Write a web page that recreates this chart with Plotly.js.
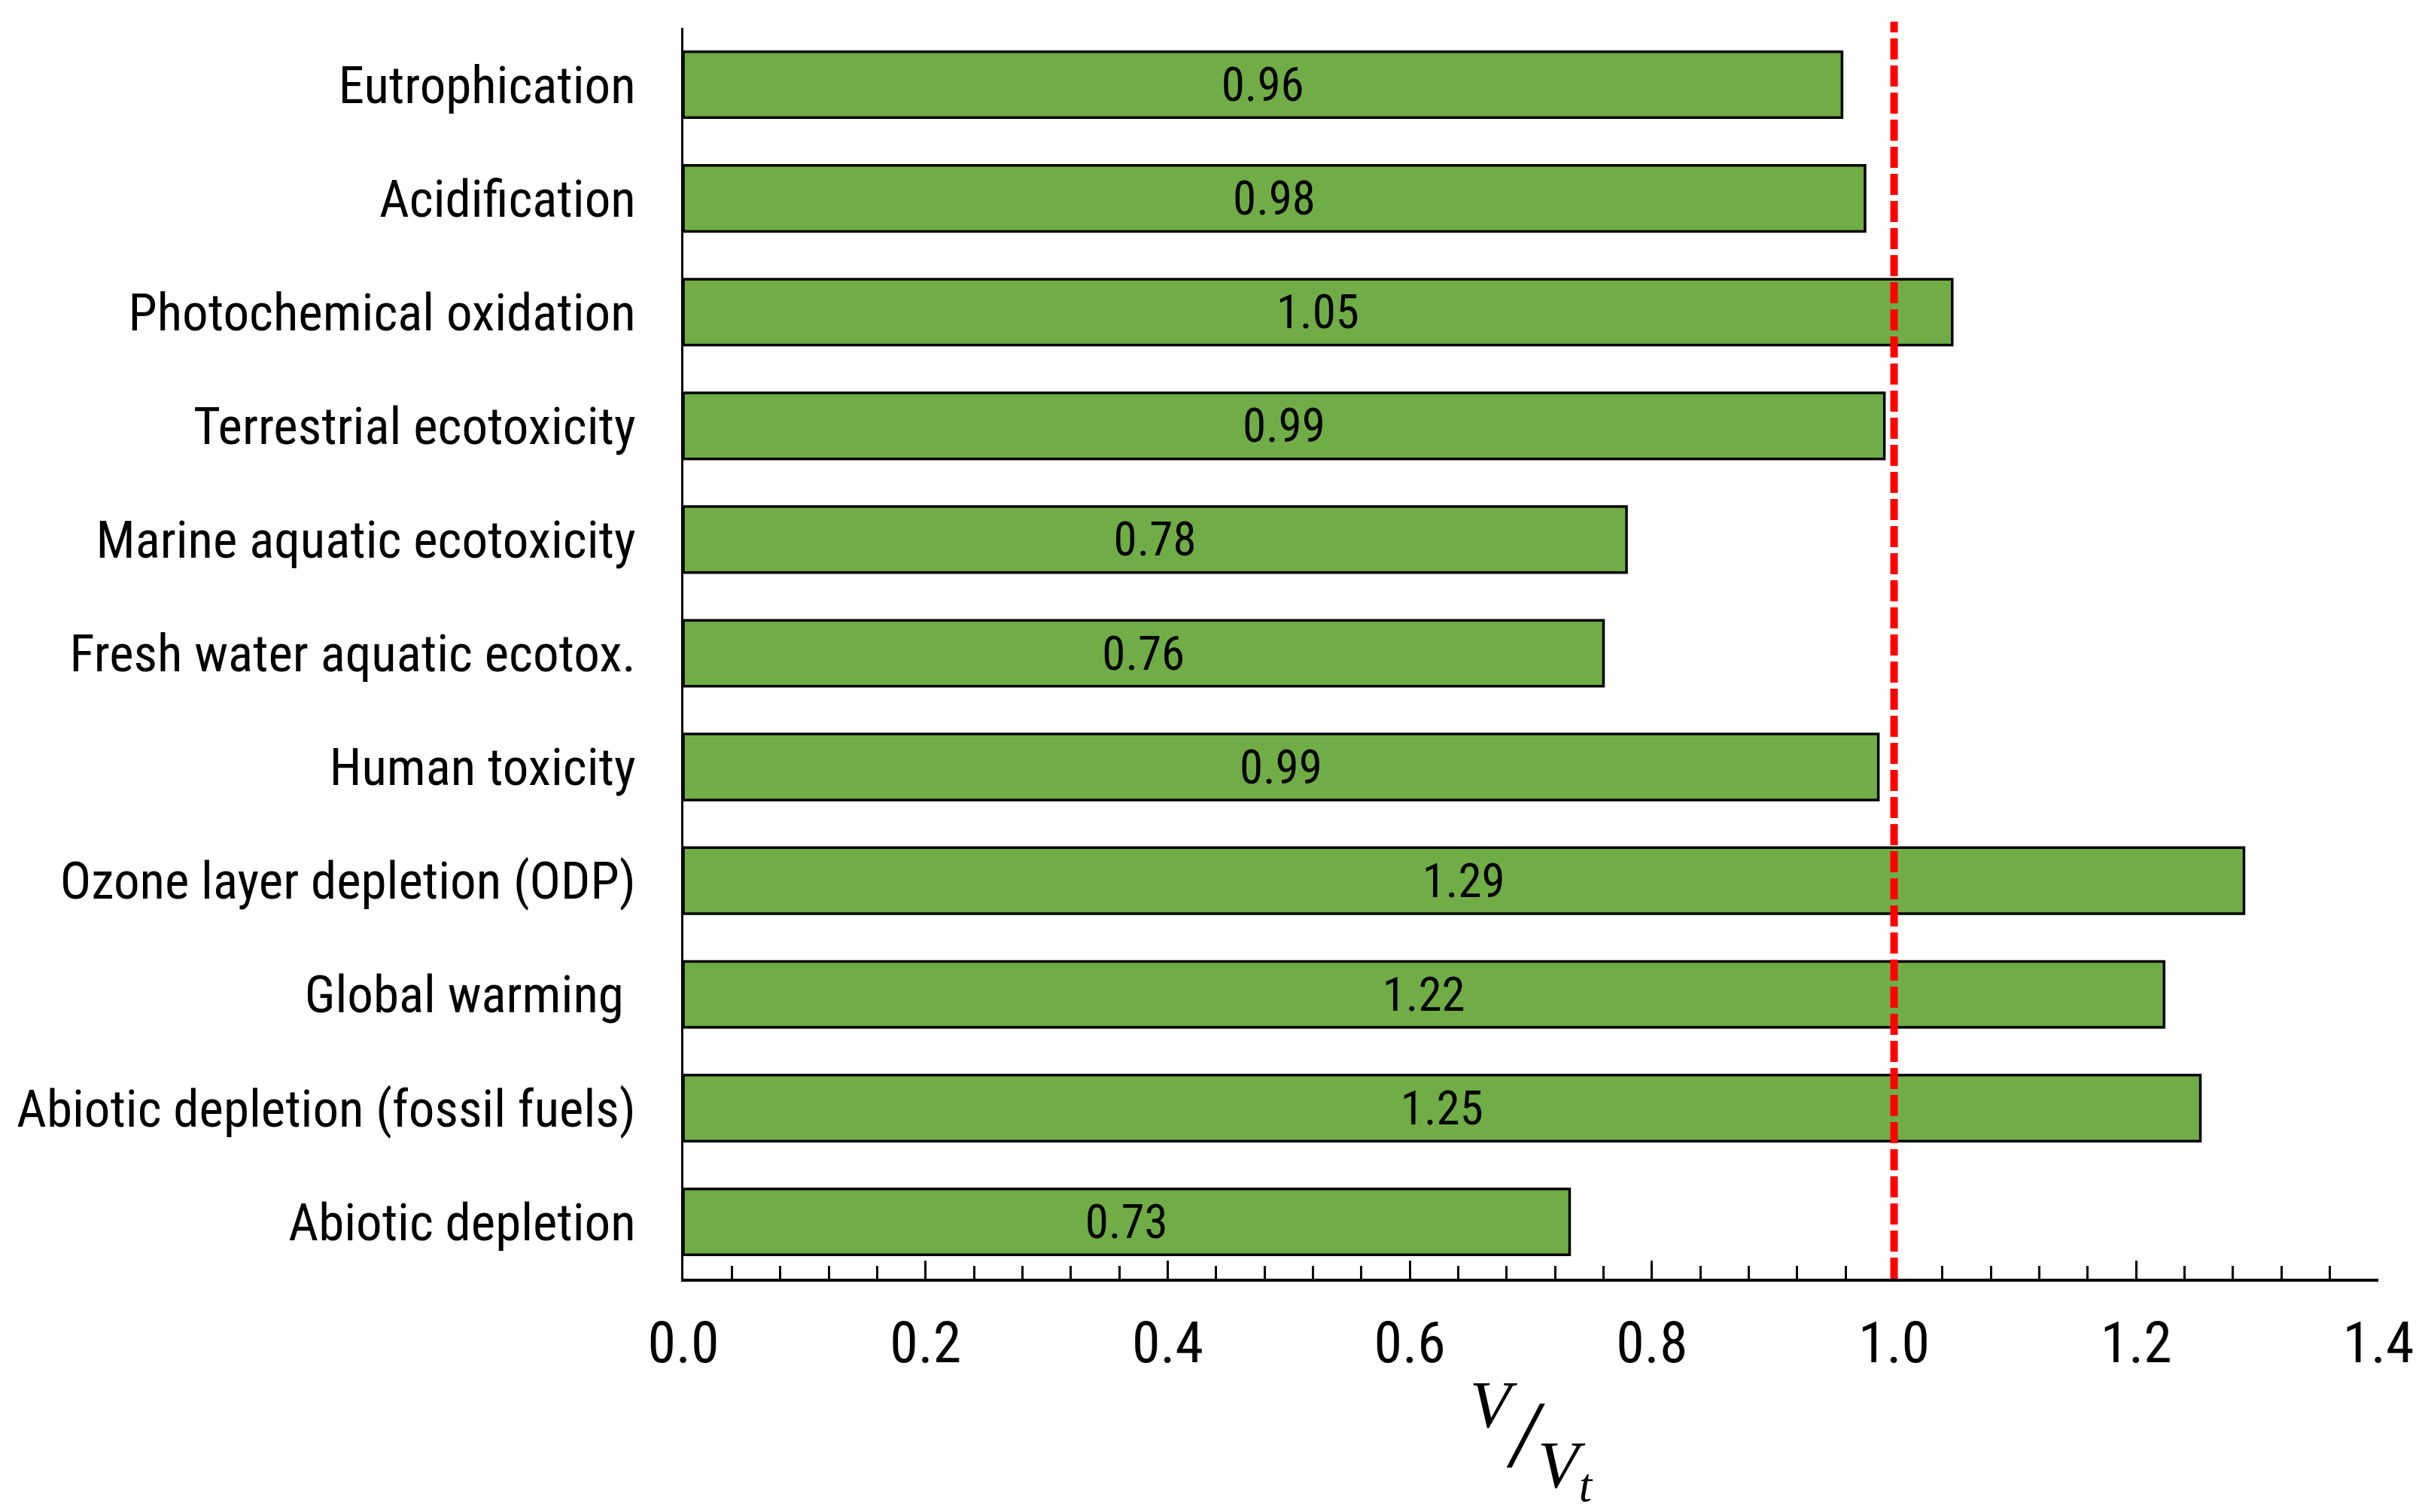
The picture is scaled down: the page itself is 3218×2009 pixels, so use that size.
<!DOCTYPE html>
<html>
<head>
<meta charset="utf-8">
<script src="https://cdn.plot.ly/plotly-3.0.1.min.js"></script>
<style>
  html, body { margin: 0; padding: 0; background: #fff; }
</style>
</head>
<body>
<div id="myDiv"></div>
<script>
// impact categories, top to bottom as in the figure
var categories = [
  "Eutrophication",
  "Acidification",
  "Photochemical oxidation",
  "Terrestrial ecotoxicity",
  "Marine aquatic ecotoxicity",
  "Fresh water aquatic ecotox.",
  "Human toxicity",
  "Ozone layer depletion (ODP)",
  "Global warming\u00a0",
  "Abiotic depletion (fossil fuels)",
  "Abiotic depletion"
];
// V / Vt ratio
var ratios = [0.957, 0.976, 1.048, 0.992, 0.779, 0.760, 0.987, 1.289, 1.223, 1.253, 0.732];
var xTicks = [0, 0.2, 0.4, 0.6, 0.8, 1.0, 1.2, 1.4];
var reference = 1.0;

var narrow = "'Roboto Condensed', 'Liberation Sans Narrow', 'Arial Narrow', sans-serif";

var data = [
  {
    type: "bar",
    orientation: "h",
    y: categories,
    x: ratios,
    width: 0.58,
    marker: {
      color: "#70AD47",
      line: { color: "black", width: 3.5 }
    },
    texttemplate: "%{x:.2f}",
    textposition: "inside",
    insidetextanchor: "middle",
    textangle: 0,
    constraintext: "none",
    insidetextfont: { family: narrow, size: 63, color: "black" },
    hoverinfo: "skip"
  }
];

var layout = {
  width: 3218,
  height: 2009,
  margin: { l: 908, r: 58, t: 37, b: 310 },
  paper_bgcolor: "white",
  plot_bgcolor: "white",
  showlegend: false,
  font: { family: narrow, color: "black", size: 69 },
  xaxis: {
    range: [0, 1.4],
    tickvals: xTicks,
    ticktext: xTicks.map(function (v) { return v.toFixed(1); }),
    ticks: "inside",
    ticklen: 24,
    tickwidth: 3,
    tickcolor: "black",
    minor: { ticks: "inside", ticklen: 17, tickwidth: 3, tickcolor: "black", dtick: 0.04, tick0: 0 },
    showline: true,
    linecolor: "black",
    linewidth: 3.5,
    showgrid: false,
    zeroline: false,
    ticklabelstandoff: 16,
    tickfont: { family: narrow, size: 76, color: "black" },
    title: {
      text: "<i><sup>V</sup>/<sub>V<sub>t</sub></sub></i>",
      font: { family: "'Liberation Serif', 'DejaVu Serif', serif", size: 128, color: "black" },
      standoff: 44
    }
  },
  yaxis: {
    type: "category",
    range: [10.5, -0.5],
    ticks: "",
    showline: true,
    linecolor: "black",
    linewidth: 3.5,
    showgrid: false,
    zeroline: false,
    ticklabelstandoff: 46,
    tickfont: { family: narrow, size: 69, color: "black" }
  },
  shapes: [
    {
      type: "line",
      xref: "x",
      yref: "paper",
      x0: reference,
      x1: reference,
      y0: 0,
      y1: 1.005,
      layer: "above",
      line: { color: "#FF0000", width: 10, dash: "28px,8px" }
    }
  ]
};

Plotly.newPlot("myDiv", data, layout, { displayModeBar: false, staticPlot: true });
</script>
</body>
</html>
